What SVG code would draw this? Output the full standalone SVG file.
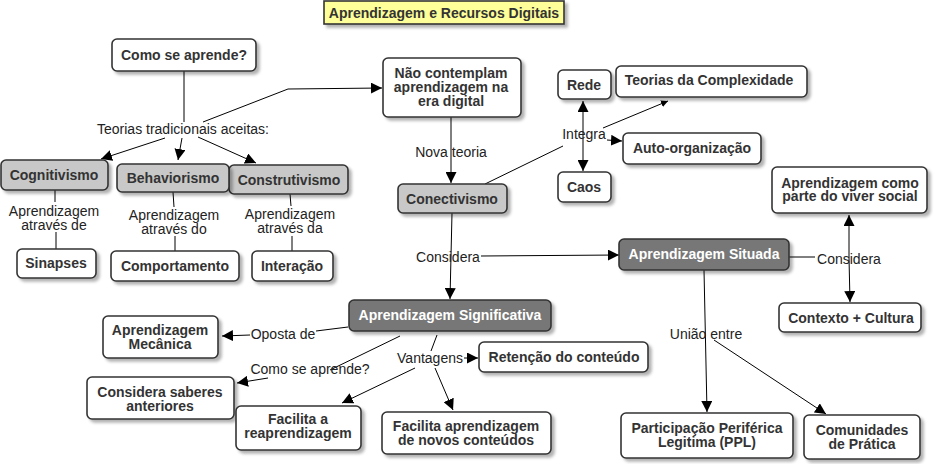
<svg xmlns="http://www.w3.org/2000/svg" width="934" height="464" viewBox="0 0 934 464">
<defs>
<filter id="sh" x="-10%" y="-10%" width="130%" height="140%">
<feDropShadow dx="3" dy="3" stdDeviation="1.5" flood-color="#000" flood-opacity="0.3"/>
</filter>
<marker id="ar" viewBox="0 0 10 10" refX="10" refY="5" markerWidth="11" markerHeight="11" markerUnits="userSpaceOnUse" orient="auto">
<path d="M0,0 L10,5 L0,10 z" fill="#000"/>
</marker>
<marker id="ars" viewBox="0 0 10 10" refX="10" refY="5" markerWidth="7" markerHeight="7" markerUnits="userSpaceOnUse" orient="auto">
<path d="M0,0 L10,5 L0,10 z" fill="#000"/>
</marker>
</defs>
<style>
.n rect{fill:#fff;stroke:#333;stroke-width:1.6;filter:url(#sh)}
.g rect{fill:#c8c8c8}
.d rect{fill:#777}
.t rect{fill:#ffff99}
.n text{font-family:"Liberation Sans",Arial,sans-serif;font-size:14px;font-weight:bold;fill:#333;text-anchor:middle}
.d text{fill:#fff}
.c path{fill:none;stroke:#000;stroke-width:1}
.c .a{marker-end:url(#ar)}
.c .s{marker-end:url(#ars)}
.l text{font-family:"Liberation Sans",Arial,sans-serif;font-size:14px;fill:#222;text-anchor:middle}
</style>
<rect width="934" height="464" fill="#fff"/>

<g id="connectors" class="c">
<path d="M184,71 L184,122"/>
<path class="a" d="M203,122 L288,89 L382,88"/>
<path class="a" d="M165,138 L101,159"/>
<path class="a" d="M182,138 L178,160"/>
<path class="a" d="M198,137 L256,163"/>
<path d="M55,190 L55,202"/>
<path d="M56,232 L56,249"/>
<path d="M173,192 L174,207"/>
<path d="M175,236 L175,251"/>
<path d="M290,194 L291,206"/>
<path d="M292,236 L292,251"/>
<path class="a" d="M451,117 L451,183"/>
<path d="M485,184 L563,146"/>
<path class="a" d="M583,135 L583,101"/>
<path class="a" d="M583,135 L583,171"/>
<path class="s" d="M603,128 L668,101"/>
<path class="a" d="M607,140 L622,141"/>
<path class="a" d="M452,213 L450,299"/>
<path class="a" d="M481,256 L619,255"/>
<path d="M789,257 L815,257"/>
<path class="a" d="M849,258 L849,215"/>
<path class="a" d="M849,258 L850,302"/>
<path d="M348,327 L316,331"/>
<path class="a" d="M250,335 L222,336"/>
<path d="M400,336 L330,370"/>
<path class="a" d="M268,378 L237,383"/>
<path d="M437,335 L431,351"/>
<path class="a" d="M464,358 L478,358"/>
<path class="a" d="M415,368 L342,403"/>
<path class="a" d="M435,368 L453,410"/>
<path class="a" d="M704,270 L707,412"/>
<path class="a" d="M714,340 L826,414"/>
</g>

<g id="labels" class="l">
<text x="183" y="134">Teorias tradicionais aceitas:</text>
<text x="54" y="216">Aprendizagem</text>
<text x="54" y="230">através de</text>
<text x="174" y="220">Aprendizagem</text>
<text x="174" y="234">através do</text>
<text x="290" y="219">Aprendizagem</text>
<text x="290" y="233">através da</text>
<text x="451" y="157">Nova teoria</text>
<text x="584" y="139">Integra</text>
<text x="448" y="262">Considera</text>
<text x="849" y="264">Considera</text>
<text x="283" y="339">Oposta de</text>
<text x="310" y="374">Como se aprende?</text>
<text x="430" y="363">Vantagens</text>
<text x="706" y="339">União entre</text>
</g>

<g id="title" class="n t"><rect x="324" y="1" width="240" height="23"/><text x="444" y="18">Aprendizagem e Recursos Digitais</text></g>
<g id="como" class="n"><rect x="112" y="39" width="144" height="32" rx="5"/><text x="184" y="60">Como se aprende?</text></g>
<g id="naocontemplam" class="n"><rect x="383" y="58" width="138" height="59" rx="5"/><text x="451" y="78">Não contemplam</text><text x="451" y="92">aprendizagem na</text><text x="451" y="106">era digital</text></g>
<g id="cognitivismo" class="n g"><rect x="1" y="160" width="107" height="30" rx="5"/><text x="54" y="180">Cognitivismo</text></g>
<g id="construtivismo" class="n g"><rect x="229" y="165" width="119" height="29" rx="5"/><text x="289" y="185">Construtivismo</text></g>
<g id="behaviorismo" class="n g"><rect x="117" y="164" width="112" height="28" rx="5"/><text x="173" y="183">Behaviorismo</text></g>
<g id="sinapses" class="n"><rect x="17" y="249" width="79" height="29" rx="5"/><text x="56" y="268">Sinapses</text></g>
<g id="comportamento" class="n"><rect x="111" y="251" width="128" height="30" rx="5"/><text x="175" y="271">Comportamento</text></g>
<g id="interacao" class="n"><rect x="252" y="251" width="81" height="30" rx="5"/><text x="292" y="271">Interação</text></g>
<g id="conectivismo" class="n g"><rect x="398" y="184" width="109" height="29" rx="5"/><text x="452" y="204">Conectivismo</text></g>
<g id="rede" class="n"><rect x="558" y="70" width="53" height="29" rx="5"/><text x="584" y="90">Rede</text></g>
<g id="teorias" class="n"><rect x="616" y="66" width="191" height="31" rx="5"/><text x="709" y="85">Teorias da Complexidade</text></g>
<g id="auto" class="n"><rect x="623" y="133" width="138" height="31" rx="5"/><text x="692" y="153">Auto-organização</text></g>
<g id="caos" class="n"><rect x="558" y="172" width="53" height="30" rx="5"/><text x="584" y="192">Caos</text></g>
<g id="viversocial" class="n"><rect x="772" y="167" width="155" height="46" rx="5"/><text x="850" y="188">Aprendizagem como</text><text x="850" y="201">parte do viver social</text></g>
<g id="situada" class="n d"><rect x="619" y="239" width="170" height="31" rx="5"/><text x="704" y="259">Aprendizagem Situada</text></g>
<g id="contexto" class="n"><rect x="779" y="303" width="142" height="29" rx="5"/><text x="851" y="323">Contexto + Cultura</text></g>
<g id="significativa" class="n d"><rect x="349" y="300" width="202" height="31" rx="5"/><text x="450" y="320">Aprendizagem Significativa</text></g>
<g id="mecanica" class="n"><rect x="103" y="316" width="115" height="42" rx="5"/><text x="160" y="335">Aprendizagem</text><text x="160" y="349">Mecânica</text></g>
<g id="saberes" class="n"><rect x="87" y="377" width="147" height="42" rx="5"/><text x="160" y="397">Considera saberes</text><text x="160" y="411">anteriores</text></g>
<g id="retencao" class="n"><rect x="479" y="342" width="169" height="30" rx="5"/><text x="564" y="362">Retenção do conteúdo</text></g>
<g id="reaprendizagem" class="n"><rect x="236" y="406" width="125" height="44" rx="5"/><text x="298" y="424">Facilita a</text><text x="298" y="438">reaprendizagem</text></g>
<g id="novos" class="n"><rect x="382" y="412" width="169" height="42" rx="5"/><text x="466" y="431">Facilita aprendizagem</text><text x="466" y="445">de novos conteúdos</text></g>
<g id="ppl" class="n"><rect x="621" y="413" width="172" height="45" rx="5"/><text x="707" y="433">Participação Periférica</text><text x="707" y="447">Legitima (PPL)</text></g>
<g id="comunidades" class="n"><rect x="804" y="415" width="116" height="44" rx="5"/><text x="862" y="435">Comunidades</text><text x="862" y="449">de Prática</text></g>
</svg>
